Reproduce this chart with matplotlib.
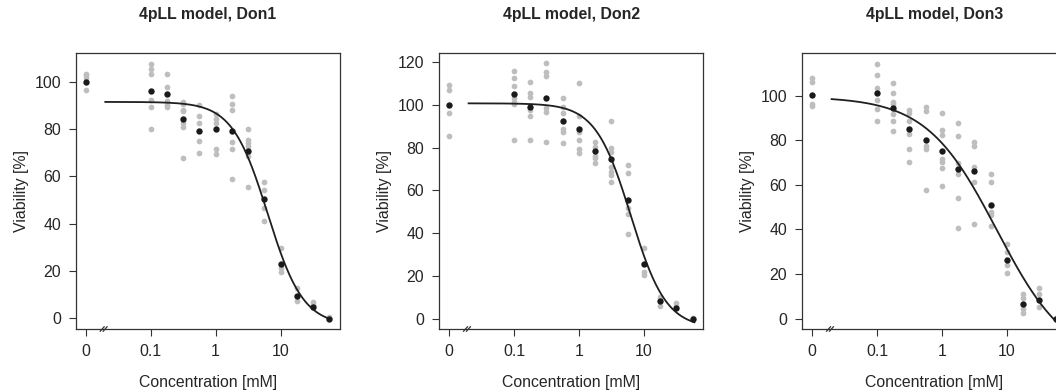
import numpy as np
import matplotlib
matplotlib.use("Agg")
import matplotlib.pyplot as plt

plt.rcParams['font.family'] = ['Liberation Sans', 'DejaVu Sans']

# ---------------- data ----------------
conc = [0, 0.1, 0.178, 0.316, 0.562, 1, 1.78, 3.16, 5.62, 10, 17.8, 31.6, 56.2]
x_ticks = [0, 0.1, 1, 10]
x_tick_labels = ["0", "0.1", "1", "10"]
zero_pos = 0.01      # position used for the zero dose on the log axis
break_pos = 0.019    # axis break position
curve_from = 0.02
curve_to = 60

titles = ["4pLL model, Don1", "4pLL model, Don2", "4pLL model, Don3"]

don1_mean = [100, 96.1, 94.8, 84.2, 79.3, 79.9, 79.4, 70.6, 50.3, 22.8, 9.4, 4.9, -0.2]
don1_reps = [
    [103.5, 102.7, 101.8, 96.5],
    [107.7, 105.4, 103.1, 92.3, 89.2, 80.0],
    [103.4, 97.9, 91.7, 90.3, 89.2],
    [91.5, 90.6, 88.0, 87.7, 82.4, 80.7, 67.6],
    [90.1, 85.5, 82.4, 74.9, 69.7],
    [86.3, 84.1, 82.7, 71.8, 69.6],
    [93.9, 90.8, 88.0, 74.6, 71.4, 58.7],
    [80.0, 75.6, 74.2, 72.8, 68.6, 55.4],
    [57.6, 54.2, 46.5, 41.1],
    [29.9, 21.2, 19.7],
    [13.0, 7.5],
    [7.1, 5.5],
    [0.5],
]

don2_mean = [100, 105.0, 99.3, 103.5, 92.7, 88.8, 78.5, 74.6, 55.6, 25.4, 8.4, 4.8, 0.0]
don2_reps = [
    [109.4, 107.0, 96.4, 85.5],
    [116.1, 112.5, 108.9, 103.2, 101.6, 100.5, 83.6],
    [110.6, 105.5, 103.9, 97.7, 95.0, 83.6],
    [119.5, 115.6, 113.6, 98.5, 96.9, 82.9],
    [103.2, 99.3, 96.1, 88.6, 87.5, 82.1],
    [110.5, 95.0, 87.5, 83.6, 79.3, 77.4],
    [82.9, 80.5, 76.2, 75.1, 73.0],
    [92.5, 79.7, 78.2, 71.2, 68.8, 67.3, 64.1],
    [71.9, 68.4, 51.7, 49.0, 39.5],
    [32.9, 22.0, 20.4],
    [10.3, 5.9],
    [7.5, 6.0],
    [0.5],
]

don3_mean = [100.3, 101.3, 94.3, 84.9, 80.2, 75.1, 66.9, 66.0, 51.0, 26.5, 6.6, 8.2, 0.0]
don3_reps = [
    [107.7, 106.0, 96.3, 95.2],
    [114.2, 109.2, 103.4, 97.8, 94.0, 88.8],
    [105.7, 101.0, 97.0, 96.0, 91.8, 88.8, 84.0],
    [93.7, 92.2, 88.5, 82.9, 75.9, 70.2],
    [94.8, 93.3, 77.6, 75.9, 57.5],
    [92.2, 84.4, 82.4, 71.7, 70.2, 67.5, 59.5],
    [87.8, 81.7, 69.9, 64.7, 54.2, 40.8],
    [79.4, 77.2, 68.0, 61.3, 42.3],
    [64.7, 61.3, 47.8, 46.3, 41.7],
    [33.4, 30.0, 24.0, 20.6],
    [11.0, 9.1, 4.2, 2.4],
    [13.6, 11.3, 5.4],
    [0.5],
]

# fitted 4pLL parameters (b, c, d, e)
don1_fit = (1.59, -3.0, 91.5, 6.33)
don2_fit = (1.60, -4.5, 100.8, 6.3)
don3_fit = (0.80, -20.0, 99.5, 7.0)

y_ticks = [[0, 20, 40, 60, 80, 100], [0, 20, 40, 60, 80, 100, 120], [0, 20, 40, 60, 80, 100]]
y_lims = [(-4.5, 112.3), (-4.85, 124.5), (-4.6, 119.2)]
x_lim = (10 ** -2.15, 10 ** 1.915)

means = [don1_mean, don2_mean, don3_mean]
reps = [don1_reps, don2_reps, don3_reps]
fits = [don1_fit, don2_fit, don3_fit]

# ---------------- figure ----------------
W, H = 1056, 392
fig = plt.figure(figsize=(W / 100, H / 100), dpi=100)
ax_w_px, ax_h_px = 264, 276.3
lefts_px = [76, 439.3, 802.3]
bottom_px = H - 329

GREY = "#BEBEBE"
BLACK = "#1A1A1A"
TXT = "#262626"
FS = 11.4


def plot_x(c):
    return np.where(np.asarray(c, dtype=float) == 0, zero_pos, c)


for i in range(3):
    ax = fig.add_axes([lefts_px[i] / W, bottom_px / H, ax_w_px / W, ax_h_px / H])
    ax.set_xscale("log")
    ax.set_xlim(*x_lim)
    ax.set_ylim(*y_lims[i])

    # replicate points
    for c, vals in zip(conc, reps[i]):
        xs = np.full(len(vals), plot_x(c))
        ax.scatter(xs, vals, s=17, color=GREY, linewidths=0, zorder=2)
    # means
    ax.scatter(plot_x(conc), means[i], s=21, color=BLACK, linewidths=0, zorder=4)

    # fitted curve
    b, c0, d, e = fits[i]
    xx = np.logspace(np.log10(curve_from), np.log10(curve_to), 300)
    yy = c0 + (d - c0) / (1 + (xx / e) ** b)
    ax.plot(xx, yy, color="#1f1f1f", lw=1.3, zorder=3)

    ax.set_xticks([zero_pos if t == 0 else t for t in x_ticks])
    ax.set_xticklabels(x_tick_labels)
    ax.minorticks_off()
    ax.set_yticks(y_ticks[i])
    ax.tick_params(direction="out", length=5.3, width=0.8, colors="#333333",
                   labelcolor=TXT, labelsize=FS)
    ax.tick_params(axis="x", pad=5.5)
    ax.tick_params(axis="y", pad=5.5)
    for sp in ax.spines.values():
        sp.set_color("#333333")
        sp.set_linewidth(0.9)

    # axis break marks
    lb = np.log10(break_pos)
    for off in (-0.025, 0.02):
        ax.plot([10 ** (lb + off - 0.03), 10 ** (lb + off + 0.03)], [-0.008, 0.008],
                transform=ax.get_xaxis_transform(), color="#333333", lw=0.9,
                clip_on=False, zorder=5)

    ax.text(0.5, 1 + 37.7 / ax_h_px, titles[i], transform=ax.transAxes,
            ha="center", va="center", fontsize=FS, fontweight="bold", color=TXT)
    ax.text(0.5, -53 / ax_h_px, "Concentration [mM]", transform=ax.transAxes,
            ha="center", va="center", fontsize=FS, color=TXT)
    ax.text(-54.5 / ax_w_px, 0.5, "Viability [%]", transform=ax.transAxes,
            ha="center", va="center", rotation=90, fontsize=FS, color=TXT)

fig.savefig("out.png", dpi=100)
